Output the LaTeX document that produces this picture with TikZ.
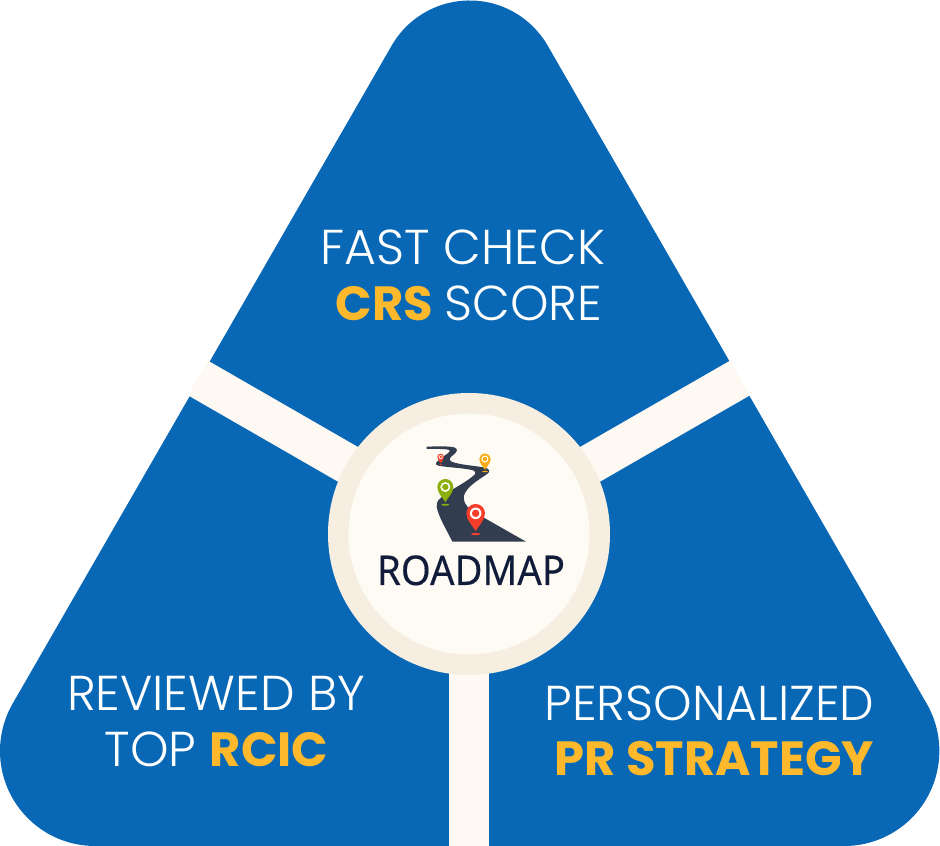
\documentclass[tikz,border=0pt]{standalone}
\usepackage{fontspec}
\setmainfont{Poppins}[UprightFont=* Light,BoldFont=* Bold]
\newfontfamily\hubfont{Noto Sans}[FakeBold=0.25]
\definecolor{panelblue}{HTML}{0968B5}
\definecolor{armcream}{HTML}{FEF9F2}
\definecolor{ringcream}{HTML}{F6EEE0}
\definecolor{hubcream}{HTML}{FEFAF4}
\definecolor{accent}{HTML}{FDB92B}
\definecolor{roadink}{HTML}{333D50}
\definecolor{hubink}{HTML}{101C3A}
\definecolor{pinred}{HTML}{F53D2A}
\definecolor{pingreen}{HTML}{8BAF0B}
\definecolor{pinorange}{HTML}{FCAD12}
\tikzset{
  arm/.style={draw=armcream,line width=40pt},
  panellabel/.style={text=white,font=\fontsize{49}{49}\selectfont,anchor=base,inner sep=0pt},
  hubtitle/.style={text=hubink,font=\hubfont\fontsize{41}{41}\selectfont,anchor=base,inner sep=0pt,xscale=0.935,transform shape}
}
\newcommand{\hiword}[1]{\textcolor{accent}{\fontsize{48}{48}\selectfont\textbf{#1}}}
% x, y in zoomed road coordinates, head radius, colour
\newcommand{\roadpin}[4]{%
  \begin{scope}[shift={(#1,#2)},x=#3*0.3333pt,y=#3*0.3333pt]
    \fill[#4] (0,-2.22) ellipse [x radius=0.5,y radius=0.12];
    \fill[#4] (-1,0) arc[start angle=180,end angle=0,radius=1]
      .. controls (1,-0.75) and (0.3,-1.35) .. (0,-1.9)
      .. controls (-0.3,-1.35) and (-1,-0.75) .. (-1,0) -- cycle;
    \fill[white] (0,0) circle[radius=0.62];
    \fill[#4] (0,0) circle[radius=0.4];
  \end{scope}}
\begin{document}
\begin{tikzpicture}[x=1pt,y=1pt]
\useasboundingbox (0,0) rectangle (940,846);
% panel
\fill[panelblue] (95,0) arc[start angle=270,end angle=150,radius=95]
  -- ++(379,658) arc[start angle=150,end angle=30,radius=90]
  -- ++(379,-658) arc[start angle=30,end angle=-90,radius=95] -- cycle;
% hub and arms
\coordinate (hubc) at (469,312);
\coordinate (armL) at (198,468);
\coordinate (armR) at (740,468);
\coordinate (armB) at (469,0);
\draw[arm] (hubc) -- (armL);
\draw[arm] (hubc) -- (armR);
\draw[arm] (hubc) -- (armB);
\node[circle,fill=ringcream,minimum size=282pt,inner sep=0pt] (ring) at (hubc) {};
\node[circle,fill=hubcream,minimum size=241pt,inner sep=0pt] (hub) at (hubc) {};
% road illustration
\begin{scope}[shift={(410,411)},x=0.3333pt,y=-0.3333pt]
  \fill[roadink] (50,35) .. controls (80,34) and (115,33) .. (132,37)
    .. controls (145,41) and (142,50) .. (132,58)
    .. controls (122,66) and (112,74) .. (125,80)
    .. controls (150,90) and (195,92) .. (225,98)
    .. controls (240,102) and (242,110) .. (230,118)
    .. controls (205,135) and (170,155) .. (162,182)
    .. controls (159,195) and (165,210) .. (180,222)
    -- (225,250) -- (348,320) -- (127,320)
    .. controls (110,285) and (85,245) .. (80,215)
    .. controls (78,195) and (95,185) .. (125,165)
    .. controls (150,150) and (185,130) .. (195,117)
    .. controls (198,108) and (190,105) .. (175,103)
    .. controls (145,98) and (110,97) .. (85,92)
    .. controls (72,88) and (78,82) .. (90,72)
    .. controls (105,60) and (125,50) .. (118,45)
    .. controls (105,41) and (75,42) .. (50,42) -- cycle;
\end{scope}
\begin{scope}[shift={(410,411)},x=0.3333pt,y=-0.3333pt]
  \roadpin{197}{235}{28}{pinred}
  \roadpin{106}{156}{24}{pingreen}
  \roadpin{225}{72}{17}{pinorange}
  \roadpin{92}{66}{10}{pinred}
\end{scope}
\node[hubtitle] (hubtext) at (471,261) {ROADMAP};
% labels
\node[panellabel] (fast) at (463,581.5) {FAST CHECK};
\node[panellabel] (crs) at (469,525.5) {\hiword{CRS}\hspace{-2pt} SCORE};
\node[panellabel] (reviewed) at (216,135.5) {REVIEWED BY};
\node[panellabel] (rcic) at (216.5,79.5) {TOP \hiword{RCIC}};
\node[panellabel] (personal) at (709.5,125.5) {PERSONALIZED};
\node[panellabel] (strategy) at (714.5,70) {\hiword{PR STRATEGY}};
\end{tikzpicture}
\end{document}
